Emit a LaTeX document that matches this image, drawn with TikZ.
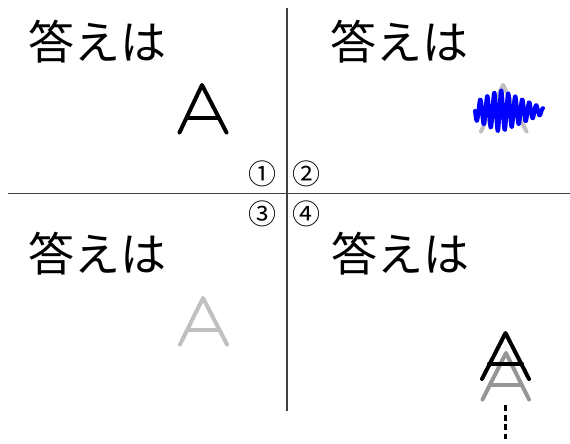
\documentclass[tikz,border=0pt]{standalone}
\usepackage{fontspec}
\newfontfamily\jpfont{Noto Sans CJK JP}
\definecolor{axisgray}{RGB}{64,64,64}
\definecolor{lightA}{RGB}{192,192,192}
\definecolor{midA}{RGB}{150,150,150}
\begin{document}
\begin{tikzpicture}[x=1pt,y=-1pt,
  axisline/.style={draw=axisgray,line width=1.5pt},
  jptext/.style={inner sep=0pt,font=\jpfont\fontsize{46}{46}\selectfont},
  numlabel/.style={inner sep=0pt,font=\jpfont\fontsize{28}{28}\selectfont},
  letterA/.style={line width=4pt,line cap=round,line join=round},
  scribble/.style={draw=blue,line width=4pt,line cap=round,line join=round}]
\useasboundingbox (0,0) rectangle (570,444);
\fill[white] (0,0) rectangle (570,444);
% axes
\coordinate (vtop) at (287,8);
\coordinate (vbot) at (287,411);
\coordinate (hleft) at (8,193.5);
\coordinate (hright) at (570,193.5);
\draw[axisline] (vtop) -- (vbot);
\draw[axisline] (hleft) -- (hright);
% texts
\node[jptext] (t1) at (97.5,41.5) {答えは};
\node[jptext] (t2) at (399,41.5) {答えは};
\node[jptext] (t3) at (97.5,254) {答えは};
\node[jptext] (t4) at (400,254) {答えは};
% numbers
\node[numlabel] (n1) at (262,174) {①};
\node[numlabel] (n2) at (306,174) {②};
\node[numlabel] (n3) at (262,214) {③};
\node[numlabel] (n4) at (306,214) {④};
% quadrant 1: A
\draw[letterA,black] (179.5,132.5) -- (202,85) -- (226.5,132.5);
\draw[letterA,black] (187,117.5) -- (218,117.5);
% quadrant 2: grey A with scribble
\draw[letterA,lightA] (481,131.5) -- (503,85) -- (526.5,131.5);
\draw[letterA,lightA] (488,117) -- (519,117);
\draw[scribble] plot[domain=0:68,samples=400,smooth]
  ({475+\x},{111 + min(9+0.48*\x,21-0.42*(\x-25))*sin((\x/7)*360)});
% quadrant 3: light A
\draw[letterA,lightA] (180,344.5) -- (203,298) -- (227,344.5);
\draw[letterA,lightA] (188,330) -- (219,330);
% quadrant 4: falling A
\draw[letterA,midA] (482.5,399.5) -- (506,353) -- (529,399.5);
\draw[letterA,midA] (490,385) -- (521,385);
\draw[letterA,black] (482,379) -- (505.5,333) -- (529,379);
\draw[letterA,black] (489,363.5) -- (522,363.5);
\coordinate (dtop) at (505.5,405);
\coordinate (dbot) at (505.5,439);
\draw[black,line width=3.5pt,dash pattern=on 6pt off 3.5pt] (dtop) -- (dbot);
\end{tikzpicture}
\end{document}
